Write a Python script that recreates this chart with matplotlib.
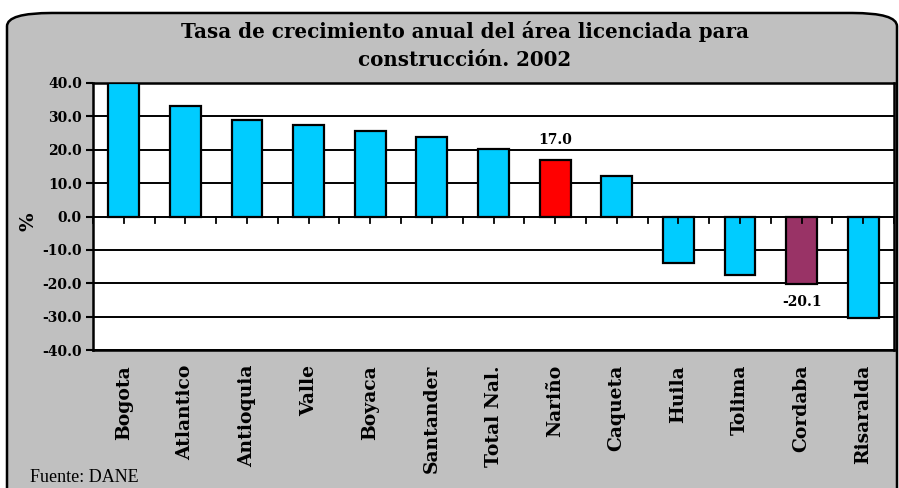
import matplotlib.pyplot as plt
import numpy as np
from matplotlib.patches import FancyBboxPatch

regiones = ['Bogota', 'Atlantico', 'Antioquia', 'Valle', 'Boyaca', 'Santander',
            'Total Nal.', 'Nariño', 'Caqueta', 'Huila', 'Tolima', 'Cordaba', 'Risaralda']
tasas = [40.0, 33.1, 29.0, 27.3, 25.5, 23.9, 20.3, 17.0, 12.1, -14.0, -17.4, -20.1, -30.3]
colores = ['#00CCFF'] * 7 + ['#FF0000', '#00CCFF', '#00CCFF', '#00CCFF', '#993366', '#00CCFF']
y_ticks = [-40, -30, -20, -10, 0, 10, 20, 30, 40]

W, H = 899, 488
fig = plt.figure(figsize=(W / 100, H / 100), dpi=100)
fig.patch.set_facecolor('white')

# rounded grey frame, behind the axes
caja = FancyBboxPatch((7 / W, -0.05), 890 / W, (H - 12) / H + 0.05 - 0.002,
                      boxstyle='round,pad=0,rounding_size=0.05',
                      transform=fig.transFigure, facecolor='#C0C0C0',
                      edgecolor='black', linewidth=1.8, mutation_aspect=H / W, zorder=-5)
fig.patches.append(caja)

ax = fig.add_axes([93 / W, (H - 350) / H, 801 / W, 267 / H])
ax.set_zorder(2)
ax.set_facecolor('white')

x = np.arange(len(regiones))
for yv in y_ticks:
    ax.axhline(yv, color='black', lw=1.4, zorder=1)
ax.bar(x, tasas, width=0.5, color=colores, edgecolor='black', linewidth=1.6, zorder=3)

ax.set_xlim(-0.5, len(regiones) - 0.5)
ax.set_ylim(-40, 40)
ax.set_yticks(y_ticks)
ax.set_yticklabels(['%.1f' % v for v in y_ticks], fontfamily='DejaVu Serif',
                   fontweight='bold', fontsize=10)
ax.tick_params(axis='y', length=5, width=1.5, pad=3)
ax.set_xticks([])
for s in ax.spines.values():
    s.set_linewidth(1.8)

# tick marks on zero line (category centres and boundaries)
for t in np.arange(-0.5, len(regiones), 0.5):
    ax.plot([t, t], [0, -1.8], color='black', lw=1.3, zorder=4, clip_on=False)

for xi, nombre in zip(x, regiones):
    ax.text(xi, -44.5, nombre, rotation=90, ha='center', va='top',
            fontfamily='DejaVu Serif', fontweight='bold', fontsize=13.5)

ax.text(7, 17.0 + 6, '17.0', ha='center', va='center', fontfamily='DejaVu Serif',
        fontweight='bold', fontsize=10)
ax.text(11, -20.1 - 5.5, '-20.1', ha='center', va='center', fontfamily='DejaVu Serif',
        fontweight='bold', fontsize=10)

fig.text(28 / W, 1 - 222 / H, '%', rotation=90, ha='center', va='center',
         fontfamily='DejaVu Serif', fontweight='bold', fontsize=14)
fig.text(465 / W, 1 - 31 / H, 'Tasa de crecimiento anual del área licenciada para',
         ha='center', va='center', fontfamily='DejaVu Serif', fontweight='bold', fontsize=14.3)
fig.text(465 / W, 1 - 60 / H, 'construcción. 2002',
         ha='center', va='center', fontfamily='DejaVu Serif', fontweight='bold', fontsize=14.3)
fig.text(30 / W, 1 - 477 / H, 'Fuente: DANE', ha='left', va='center',
         fontfamily='Liberation Serif', fontsize=13)

fig.savefig('out.png', dpi=100)
